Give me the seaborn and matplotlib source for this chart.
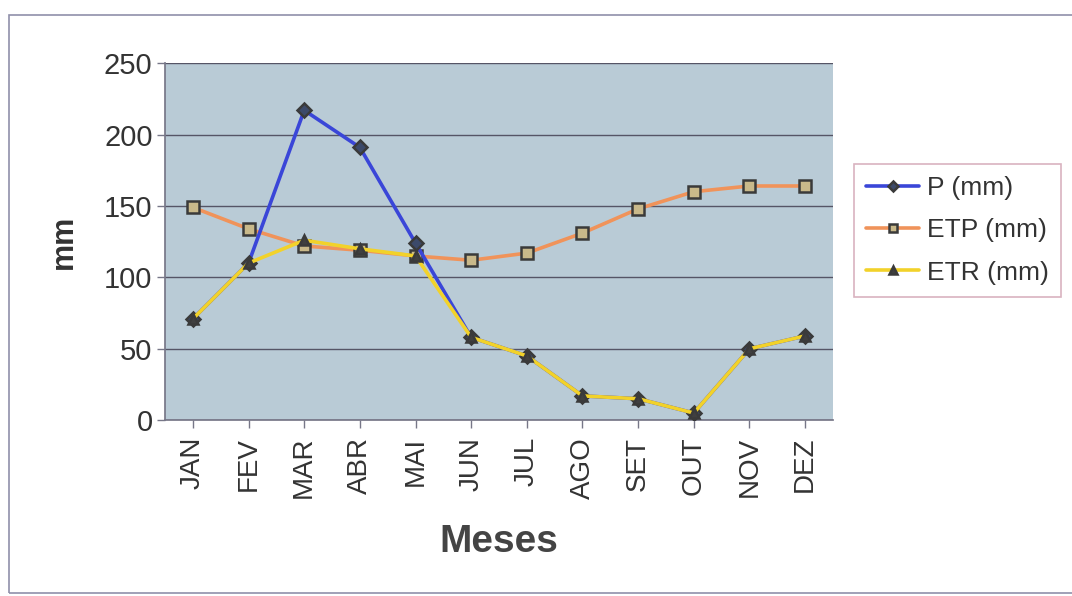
import matplotlib
matplotlib.use("Agg")
import matplotlib.pyplot as plt
import seaborn as sns
import pandas as pd
from matplotlib.patches import Rectangle

months = ["JAN", "FEV", "MAR", "ABR", "MAI", "JUN", "JUL", "AGO", "SET", "OUT", "NOV", "DEZ"]
p_mm = [71, 110, 217, 191, 124, 58, 45, 17, 15, 5, 50, 59]
etp_mm = [149, 134, 122, 119, 115, 112, 117, 131, 148, 160, 164, 164]
etr_mm = [71, 110, 126, 120, 115, 58, 45, 17, 15, 5, 50, 59]

sns.set_theme(style="white")
plt.rcParams['font.family'] = ['Liberation Sans', 'DejaVu Sans']

fig = plt.figure(figsize=(10.72, 5.96), dpi=100)
ax = fig.add_axes([0.154, 0.295, 0.623, 0.599])
ax.set_facecolor("#b9cbd6")

series = [
    ("P (mm)", p_mm, "#3a46d8", "D", "#3c4a6a", 7),
    ("ETP (mm)", etp_mm, "#f0935a", "s", "#c9b98a", 8),
    ("ETR (mm)", etr_mm, "#f2d22a", "^", "#404040", 7),
]
for i in [1, 0, 2]:
    name, vals, col, mk, fc, ms = series[i]
    df = pd.DataFrame({"m": months, "v": vals})
    sns.lineplot(data=df, x="m", y="v", ax=ax, color=col, lw=2.6, marker=mk,
                 markersize=ms, markerfacecolor=fc, markeredgecolor="#3a3a3a",
                 markeredgewidth=1.8, sort=False, label=name, zorder=3 + (1 if i == 2 else 0))

ax.set_ylim(0, 250)
ax.set_xlim(-0.5, 11.5)
ax.set_yticks([0, 50, 100, 150, 200, 250])
ax.yaxis.grid(True, color="#555566", lw=1.0)
ax.set_axisbelow(True)
for s in ["top", "right"]:
    ax.spines[s].set_visible(False)
ax.spines["left"].set_color("#777788")
ax.spines["bottom"].set_color("#777788")
ax.tick_params(axis="y", labelsize=21, colors="#333333", length=6, width=1, left=True, direction="out", pad=3, color="#777788")
ax.tick_params(axis="x", labelsize=20, colors="#333333", length=6, width=1, bottom=True, direction="out", pad=6, color="#777788")
ax.set_xticks(range(len(months)))
ax.set_xticklabels(months, rotation=90)
ax.set_xlabel("Meses", fontsize=28, fontweight="bold", color="#444444", labelpad=18)
ax.set_ylabel("mm", fontsize=22, fontweight="bold", color="#333333", labelpad=18)

h, l = ax.get_legend_handles_labels()
d = dict(zip(l, h))
labs = ["P (mm)", "ETP (mm)", "ETR (mm)"]
leg = fig.legend([d[k] for k in labs], labs, loc="upper left", bbox_to_anchor=(0.797, 0.725),
                 fontsize=19, frameon=True, fancybox=False, handlelength=2.0, handletextpad=0.3,
                 labelspacing=0.7, borderpad=0.45, borderaxespad=0, markerscale=0.8)
leg.get_frame().set_edgecolor("#d0a0b0")
leg.get_frame().set_linewidth(1.2)
for t in leg.get_texts():
    t.set_color("#333333")
ax.get_legend().remove()

fig.patches.append(Rectangle((0.008, 0.005), 1.2, 0.97, transform=fig.transFigure,
                             fill=False, edgecolor="#9090aa", lw=1.2))

fig.savefig("out.png", dpi=100)
